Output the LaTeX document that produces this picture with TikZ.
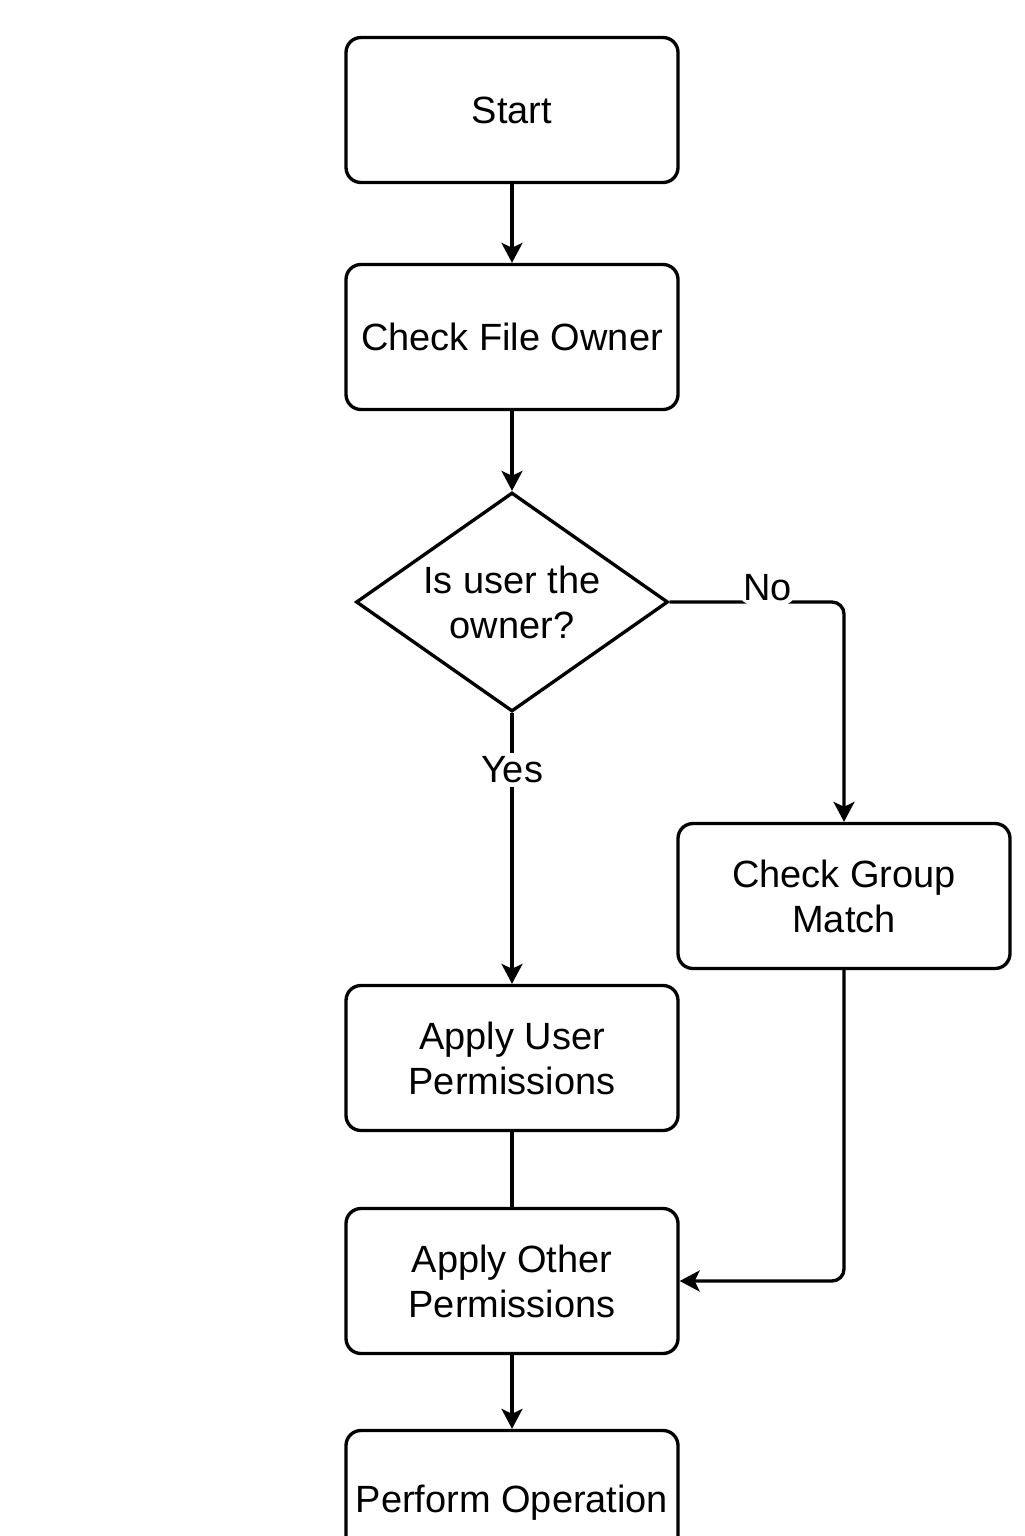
\documentclass[tikz,border=0pt]{standalone}
\usepackage{fontspec}
\setmainfont{Liberation Sans}
\usetikzlibrary{shapes.geometric,arrows.meta}
\begin{document}
\begin{tikzpicture}[line width=0.95pt,
    txt/.style={font=\fontsize{10.8}{12.8}\selectfont},
    box/.style={txt,draw,rounded corners=0.15cm,inner xsep=2pt,minimum width=3.32cm,minimum height=1.45cm,align=center},
    decision/.style={txt,draw,diamond,aspect=1.42,inner sep=0pt,minimum width=3.12cm,minimum height=2.19cm,align=center},
    arr/.style={-{Stealth[length=0.2cm,width=0.21cm,inset=0.05cm]}},
    lbl/.style={txt,fill=white,inner sep=1pt}]
  \useasboundingbox (0,0) rectangle (10.24,-15.36);
  \clip (0,0) rectangle (10.24,-15.36);
  \node[box] (start) at (5.12,-1.10) {Start};
  \node[box] (owner) at (5.12,-3.37) {Check File Owner};
  \node[decision] (isowner) at (5.12,-6.02) {Is user the\\owner?};
  \node[box] (group) at (8.44,-8.96) {Check Group\\Match};
  \node[box] (userperm) at (5.12,-10.58) {Apply User\\Permissions};
  \node[box] (otherperm) at (5.12,-12.81) {Apply Other\\Permissions};
  \node[box] (perform) at (5.12,-15.03) {Perform Operation};
  \draw[arr] (start) -- (owner);
  \draw[arr] (owner) -- (isowner);
  \draw[arr,rounded corners=0.12cm] (isowner.east) -| node[lbl,pos=0.28,yshift=0.14cm] {No} (group.north);
  \draw[arr] (isowner.south) -- node[lbl,pos=0.21] {Yes} (userperm.north);
  \draw (userperm) -- (otherperm);
  \draw[arr,rounded corners=0.12cm] (group.south) |- (otherperm.east);
  \draw[arr] (otherperm) -- (perform);
\end{tikzpicture}
\end{document}
